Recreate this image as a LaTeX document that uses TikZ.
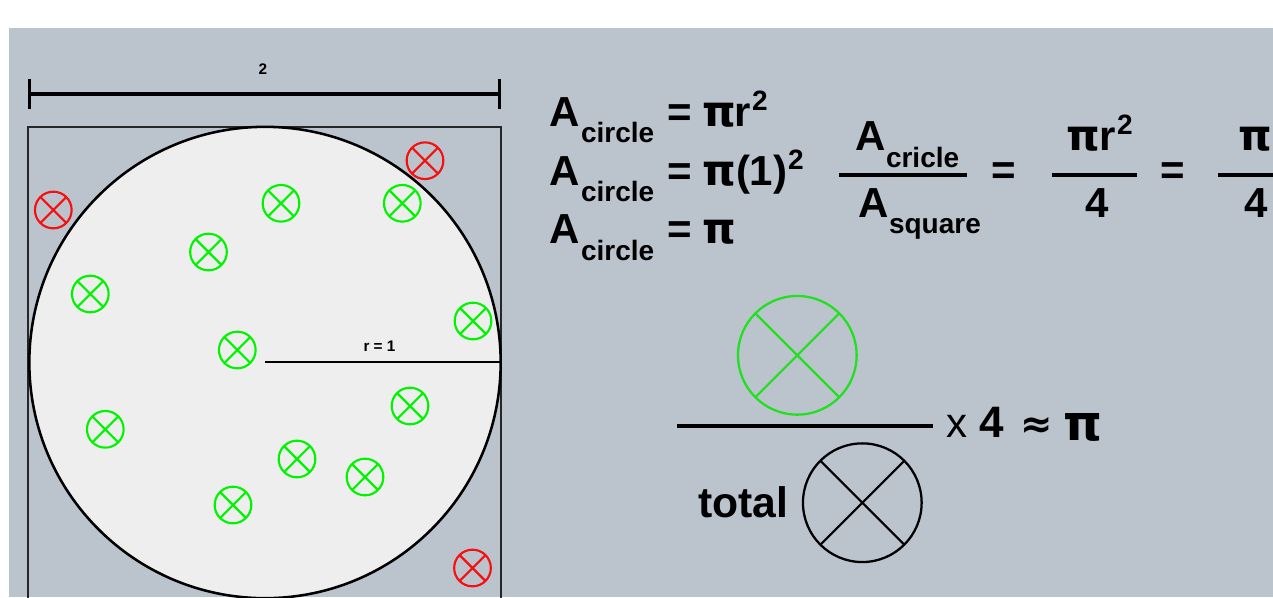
\documentclass[tikz,border=0pt]{standalone}
\usepackage{fontspec}
\setmainfont{Liberation Sans}
\newfontfamily\dejavu{DejaVu Sans}
\definecolor{panel}{HTML}{BBC3CD}
\definecolor{disc}{HTML}{EEEEEE}
\definecolor{mgreen}{HTML}{00F400}
\definecolor{bgreen}{HTML}{20E020}
\definecolor{mred}{HTML}{F51010}
\newcommand{\bigf}{\fontsize{31.5}{36}\bfseries\selectfont}
\newcommand{\subf}{\fontsize{21}{24}\bfseries\selectfont}
\newcommand{\tinyf}{\fontsize{11.5}{13}\bfseries\selectfont}
\newcommand{\pif}{\dejavu\fontsize{32}{36}\bfseries\selectfont}
\newcommand{\pibigf}{\dejavu\fontsize{37}{42}\bfseries\selectfont}
\newcommand{\apf}{\dejavu\fontsize{29}{36}\bfseries\selectfont}
\tikzset{
  big text/.style={anchor=base west,inner sep=0pt,outer sep=0pt,font=\bigf},
  sub text/.style={anchor=base west,inner sep=0pt,outer sep=0pt,font=\subf},
  pi text/.style={anchor=base west,inner sep=0pt,outer sep=0pt,font=\pif},
  tiny text/.style={anchor=center,inner sep=0pt,outer sep=0pt,font=\tinyf},
  mark ring/.style={circle,draw,inner sep=0pt,outer sep=0pt,line width=1.6pt,minimum size=27.5pt},
  big ring/.style={circle,draw,inner sep=0pt,outer sep=0pt,line width=1.7pt,minimum size=89pt},
  rule line/.style={line width=2.5pt,draw=black},
}
\newcommand{\xmark}[5]{%
  \node[#5,draw=#4] (#1) at (#2,#3) {};
  \draw[#4,line width=1.6pt] (#1.45) -- (#1.225) (#1.135) -- (#1.315);
}
\begin{document}
\begin{tikzpicture}[x=0.75pt,y=-0.75pt]
\path[use as bounding box,fill=white] (0,0) rectangle (1273,597);
\begin{scope}
\clip (0,0) rectangle (1273,597);
\fill[panel] (9,28) rectangle (1273,597);
% square and circle
\node[draw=black!85,line width=1.5pt,minimum width=354.75pt,minimum height=354.75pt,inner sep=0pt,outer sep=0pt] (sq) at (264.5,363.5) {};
\node[circle,draw=black,fill=disc,line width=1.9pt,minimum size=353.5pt,inner sep=0pt,outer sep=0pt] (disc) at (265,362.5) {};
\coordinate (centre) at (265,362);
\draw[black,line width=1.6pt] (centre) -- (disc.east |- centre);
% dimension line
\coordinate (dl) at (29.5,94);
\coordinate (dr) at (499.5,94);
\draw[rule line] (dl) -- (dr);
\draw[rule line] (29.5,79) -- (29.5,109);
\draw[rule line] (499.5,79) -- (499.5,109);
\node[tiny text] (two) at (263,69) {2};
\node[tiny text] (rlab) at (379.5,346) {r = 1};
% green and red marks
\xmark{g1}{208.5}{252}{mgreen}{mark ring}
\xmark{g2}{281}{203.3}{mgreen}{mark ring}
\xmark{g3}{402.3}{203.3}{mgreen}{mark ring}
\xmark{g4}{90.3}{294}{mgreen}{mark ring}
\xmark{g5}{473}{321}{mgreen}{mark ring}
\xmark{g6}{237.3}{350}{mgreen}{mark ring}
\xmark{g7}{410}{406}{mgreen}{mark ring}
\xmark{g8}{105.3}{429.3}{mgreen}{mark ring}
\xmark{g9}{297}{459}{mgreen}{mark ring}
\xmark{g10}{365}{477}{mgreen}{mark ring}
\xmark{g11}{233}{505}{mgreen}{mark ring}
\xmark{r1}{425}{160.7}{mred}{mark ring}
\xmark{r2}{53.3}{210}{mred}{mark ring}
\xmark{r3}{472.5}{568}{mred}{mark ring}
% left equations
\node[big text] (a1) at (549,126) {A};
\node[sub text] (s1) at (581,142) {circle};
\node[big text] (e1) at (667,126) {=};
\node[pi text] (pi1) at (702.5,126) {π};
\node[big text] (r1t) at (734,126) {r};
\node[sub text] (p1) at (752,110) {2};
\node[big text] (a2) at (549,185) {A};
\node[sub text] (s2) at (581,201) {circle};
\node[big text] (e2) at (667,185) {=};
\node[pi text] (pi2) at (702.5,185) {π};
\node[big text] (o2) at (736,185) {(1)};
\node[sub text] (p2) at (788,169) {2};
\node[big text] (a3) at (549,243) {A};
\node[sub text] (s3) at (581,260) {circle};
\node[big text] (e3) at (667,243) {=};
\node[pi text] (pi3) at (702.5,243) {π};
% fraction chain
\node[big text] (a4) at (855,150) {A};
\node[sub text] (s4) at (886,167) {cricle};
\draw[rule line] (839,175) -- (967,175);
\node[big text] (a5) at (858,217) {A};
\node[sub text] (s5) at (889,233) {square};
\node[big text] (eq1) at (991,184) {=};
\node[pi text] (n2) at (1066.5,150) {π};
\node[big text] (n2r) at (1099,150) {r};
\node[sub text] (p3) at (1117,134) {2};
\draw[rule line] (1052,175) -- (1137,175);
\node[big text] (d2) at (1085,217) {4};
\node[big text] (eq2) at (1160,184) {=};
\node[pi text] (n3) at (1238,150) {π};
\draw[rule line] (1218,175) -- (1273,175);
\node[big text] (d3) at (1244,217) {4};
% estimate
\xmark{bg}{797.3}{355.3}{bgreen}{big ring}
\draw[rule line] (677,426) -- (933,426);
\xmark{bk}{862.3}{502.7}{black}{big ring}
\node[big text,font=\fontsize{32}{36}\bfseries\selectfont] (total) at (698,517) {total};
\node[big text,font=\fontsize{31.5}{36}\selectfont] (times) at (946,437) {x};
\node[big text,font=\fontsize{33}{36}\bfseries\selectfont] (four) at (979,437) {4};
\node[big text,font=\apf] (approx) at (1020,437) {≈};
\node[big text,font=\pibigf] (pi) at (1063,440) {π};
\end{scope}
\end{tikzpicture}
\end{document}
